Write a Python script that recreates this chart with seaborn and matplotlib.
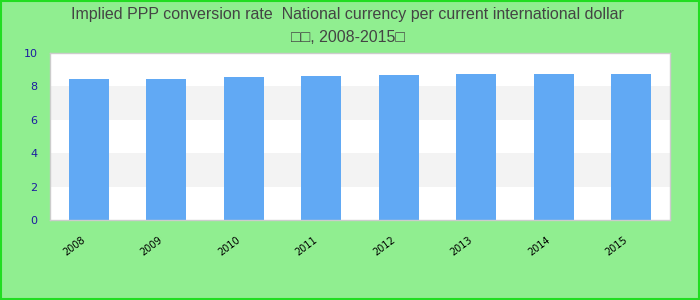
import matplotlib
matplotlib.use("Agg")
import matplotlib.pyplot as plt
import matplotlib.transforms as mtransforms
import seaborn as sns
import pandas as pd

years = ["2008", "2009", "2010", "2011", "2012", "2013", "2014", "2015"]
values = [8.46, 8.46, 8.58, 8.64, 8.70, 8.76, 8.76, 8.76]
title_line1 = "Implied PPP conversion rate  National currency per current international dollar"
title_line2 = "\u25a1\u25a1, 2008-2015\u25a1"
y_ticks = [0, 2, 4, 6, 8, 10]

sns.set_theme(style="white")
plt.rcParams["font.family"] = ["Liberation Sans", "DejaVu Sans"]

df = pd.DataFrame({"year": years, "value": values})

fig = plt.figure(figsize=(7, 3), dpi=100, facecolor="#90ee90")
ax = fig.add_axes([50 / 700, 80 / 300, 620 / 700, 167 / 300])
ax.set_facecolor("white")

# alternating bands
for i in range(0, 10, 2):
    if (i // 2) % 2 == 1:
        ax.axhspan(i, i + 2, color="#f3f3f3", zorder=0, lw=0)

sns.barplot(data=df, x="year", y="value", color="#61a9f4", saturation=1,
            width=0.52, ax=ax, zorder=2, linewidth=0, edgecolor="none")

ax.set_ylim(0, 10)
ax.set_xlim(-0.5, len(years) - 0.5)
ax.set_yticks(y_ticks)
ax.set_yticklabels([str(t) for t in y_ticks], fontsize=8, color="#1c1ca0",
                   family="DejaVu Sans")
ax.tick_params(axis="y", length=0, pad=9)
ax.tick_params(axis="x", length=0, pad=2)
ax.set_xlabel("")
ax.set_ylabel("")
ax.grid(False)

for s in ax.spines.values():
    s.set_visible(True)
    s.set_color("#cccccc")
    s.set_linewidth(1)

ax.set_xticklabels(years, rotation=37, ha="right", rotation_mode="anchor",
                   fontsize=7, color="black", family="DejaVu Sans")
offset = mtransforms.ScaledTranslation(-8 / 100, -12 / 100, fig.dpi_scale_trans)
for lab in ax.get_xticklabels():
    lab.set_transform(lab.get_transform() + offset)

fig.text(0.497, 1 - 14 / 300, title_line1, ha="center", va="center",
         fontsize=11.5, color="#444444")
fig.text(0.497, 1 - 37 / 300, title_line2, ha="center", va="center",
         fontsize=11.5, color="#444444", family=["Liberation Sans", "DejaVu Sans"])

# outer border
border = plt.Rectangle((0.001, 0.002), 0.997, 0.995, transform=fig.transFigure,
                       fill=False, edgecolor="#22dd22", linewidth=1.5)
fig.patches.append(border)

fig.savefig("out.png", dpi=100, facecolor=fig.get_facecolor())
